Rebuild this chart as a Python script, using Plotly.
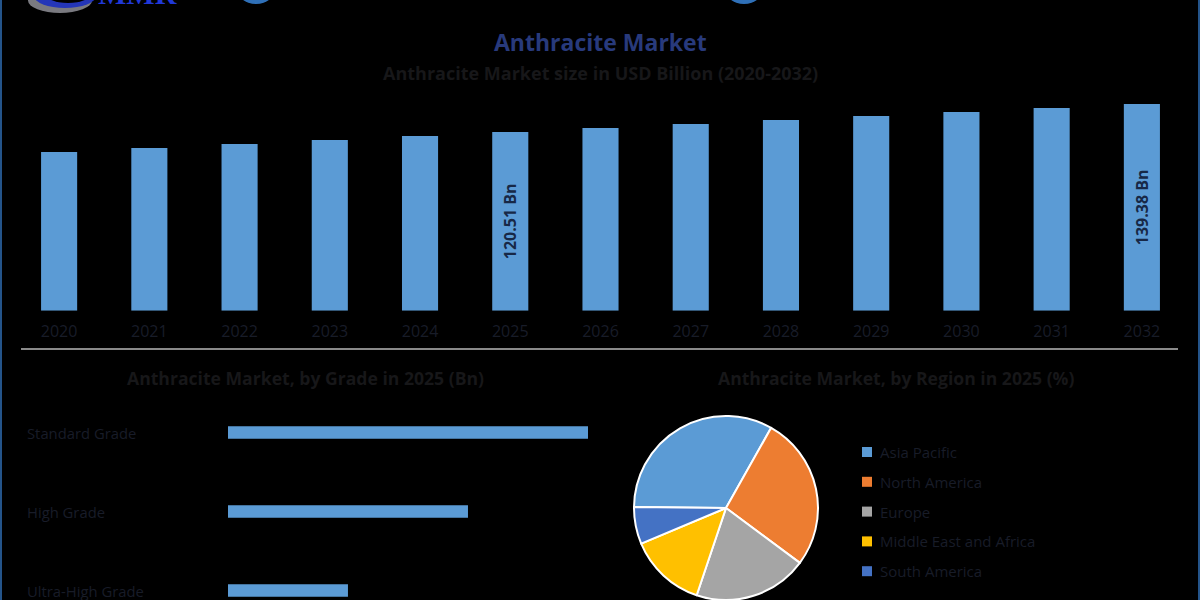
import plotly.graph_objects as go

W, H = 1200, 600

# ---------------- data ----------------
years = ["2020", "2021", "2022", "2023", "2024", "2025", "2026",
         "2027", "2028", "2029", "2030", "2031", "2032"]
market_size = [107.0, 109.7, 112.4, 115.1, 117.8, 120.51, 123.2,
               125.9, 128.6, 131.3, 134.0, 136.7, 139.38]
labelled_years = ["2025", "2032"]

grades = ["Standard Grade", "High Grade", "Ultra-High Grade"]
grade_values = [60.26, 40.17, 20.08]

regions = ["Asia Pacific", "North America", "Europe",
           "Middle East and Africa", "South America"]
region_share = [33.0, 27.0, 20.0, 13.5, 6.5]
region_colors = ["#5b9bd5", "#ed7d31", "#a5a5a5", "#ffc000", "#4472c4"]

title = "Anthracite Market"
subtitle = "Anthracite Market size in USD Billion (2020-2032)"
grade_title = "Anthracite Market, by Grade in 2025 (Bn)"
region_title = "Anthracite Market, by Region in 2025 (%)"

# ---------------- helpers ----------------
def px_x(x):
    return x / W


def px_y(y):
    return (H - y) / H


FONT = "Open Sans"
DARK_TXT = "#181c28"
TITLE_TXT = "#171719"
BAR_BLUE = "#5b9bd5"

fig = go.Figure()

# ---- top: market size bars ----
bar_text = [f"{v:.2f} Bn" if y in labelled_years else "" for y, v in zip(years, market_size)]
fig.add_trace(go.Bar(
    x=years, y=market_size, xaxis="x", yaxis="y",
    marker=dict(color=BAR_BLUE, line=dict(width=0)),
    width=0.4,
    text=bar_text, textposition="inside", insidetextanchor="middle",
    textangle=-90,
    textfont=dict(family=FONT, size=16, color="#172846", weight="bold"),
    showlegend=False, hoverinfo="x+y",
))

# ---- bottom-left: grade bars ----
fig.add_trace(go.Bar(
    x=grade_values[::-1], y=grades[::-1], orientation="h",
    xaxis="x2", yaxis="y2",
    marker=dict(color=BAR_BLUE, line=dict(width=0)),
    width=0.16, showlegend=False,
))

# ---- bottom-right: region pie ----
R = 92
cx, cy = 726, 508
fig.add_trace(go.Pie(
    labels=regions, values=region_share, sort=False,
    direction="clockwise", rotation=270.6,
    marker=dict(colors=region_colors, line=dict(color="white", width=2)),
    textinfo="none", showlegend=False,
    domain=dict(x=[px_x(cx - R), px_x(cx + R)], y=[0, (2 * R) / H]),
))

top_base = 310.7
top_top = 95
scale = 120.51 / (310.7 - 132)

fig.update_layout(
    width=W, height=H,
    margin=dict(l=0, r=0, t=0, b=0),
    paper_bgcolor="black", plot_bgcolor="black",
    bargap=0.6,
    xaxis=dict(domain=[px_x(14), px_x(1187)], type="category",
               showgrid=False, zeroline=False, showline=False, ticks="",
               tickfont=dict(family=FONT, size=16, color=DARK_TXT),
               ticklabelstandoff=9, fixedrange=True),
    yaxis=dict(domain=[px_y(top_base), px_y(top_top)],
               range=[0, (top_base - top_top) * scale], visible=False),
    xaxis2=dict(domain=[px_x(228), px_x(588)], range=[0, max(grade_values)],
                visible=False, anchor="y2"),
    yaxis2=dict(domain=[0, px_y(395)], range=[-0.12, 2.475],
                type="category", visible=False, anchor="x2"),
)

ann = []
ann.append(dict(text=f"<b>{title}</b>", x=0.5, y=px_y(42), xref="paper", yref="paper",
                showarrow=False, font=dict(family=FONT, size=23, color="#283a7c"),
                xanchor="center", yanchor="middle"))
ann.append(dict(text=f"<b>{subtitle}</b>", x=0.5, y=px_y(73), xref="paper", yref="paper",
                showarrow=False, font=dict(family=FONT, size=18, color=TITLE_TXT),
                xanchor="center", yanchor="middle"))
ann.append(dict(text=f"<b>{grade_title}</b>", x=px_x(305), y=px_y(378), xref="paper", yref="paper",
                showarrow=False, font=dict(family=FONT, size=17.6, color=TITLE_TXT),
                xanchor="center", yanchor="middle"))
ann.append(dict(text=f"<b>{region_title}</b>", x=px_x(896), y=px_y(378), xref="paper", yref="paper",
                showarrow=False, font=dict(family=FONT, size=17.6, color=TITLE_TXT),
                xanchor="center", yanchor="middle"))
for g in grades:
    ann.append(dict(text=g, x=px_x(25), y=g, xref="paper", yref="y2",
                    showarrow=False, font=dict(family=FONT, size=14.8, color=DARK_TXT),
                    xanchor="left", yanchor="middle"))

shapes = []
for i, (r, c) in enumerate(zip(regions, region_colors)):
    yc = 452 + 29.8 * i
    shapes.append(dict(type="rect", xref="paper", yref="paper",
                       x0=px_x(862), x1=px_x(872), y0=px_y(yc + 5), y1=px_y(yc - 5),
                       fillcolor=c, line=dict(width=0)))
    ann.append(dict(text=r, x=px_x(878), y=px_y(yc), xref="paper", yref="paper",
                    showarrow=False, font=dict(family=FONT, size=15, color=DARK_TXT),
                    xanchor="left", yanchor="middle"))

# separator and borders
shapes.append(dict(type="line", xref="paper", yref="paper", x0=px_x(21), x1=px_x(1178),
                   y0=px_y(349), y1=px_y(349), line=dict(color="#b8b8b8", width=1.5)))
shapes.append(dict(type="line", xref="paper", yref="paper", x0=px_x(1), x1=px_x(1),
                   y0=0, y1=1, line=dict(color="#24548a", width=2)))
shapes.append(dict(type="line", xref="paper", yref="paper", x0=px_x(1199), x1=px_x(1199),
                   y0=0, y1=1, line=dict(color="#24548a", width=2)))

# partial logo pieces at the top edge
shapes.append(dict(type="circle", xref="paper", yref="paper", x0=px_x(28), x1=px_x(92),
                   y0=px_y(13), y1=px_y(-12), fillcolor="#7a7a80", line=dict(width=0)))
shapes.append(dict(type="circle", xref="paper", yref="paper", x0=px_x(34), x1=px_x(96),
                   y0=px_y(8), y1=px_y(-16), fillcolor="#2436b8", line=dict(width=0)))
shapes.append(dict(type="circle", xref="paper", yref="paper", x0=px_x(44), x1=px_x(92),
                   y0=px_y(3), y1=px_y(-18), fillcolor="black", line=dict(width=0)))
shapes.append(dict(type="circle", xref="paper", yref="paper", x0=px_x(236), x1=px_x(276),
                   y0=px_y(4), y1=px_y(-30), fillcolor="#2f70b8", line=dict(width=0)))
shapes.append(dict(type="circle", xref="paper", yref="paper", x0=px_x(724), x1=px_x(764),
                   y0=px_y(4), y1=px_y(-30), fillcolor="#2f70b8", line=dict(width=0)))
ann.append(dict(text="<b>MMR</b>", x=px_x(137), y=px_y(-6), xref="paper", yref="paper",
                showarrow=False, font=dict(family="Liberation Serif", size=30, color="#2038d8"),
                xanchor="center", yanchor="middle"))

fig.update_layout(annotations=ann, shapes=shapes)

fig.write_html("out.html")
